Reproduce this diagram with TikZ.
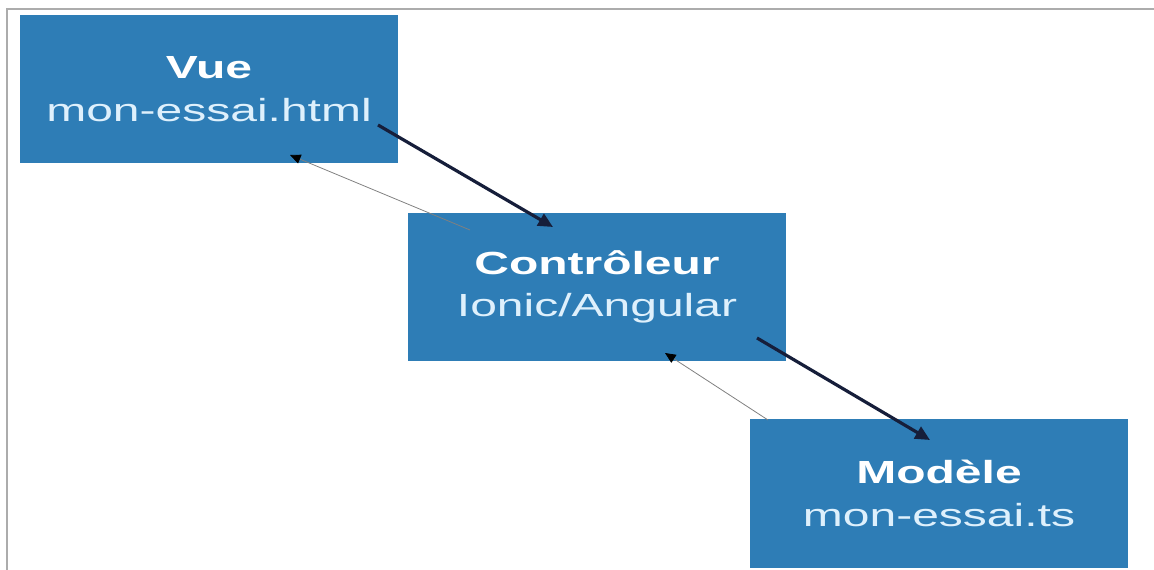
\documentclass[tikz,border=0pt]{standalone}
\usepackage{fontspec}
\setmainfont[FakeStretch=1.5]{Liberation Sans}
\usetikzlibrary{calc}
\usetikzlibrary{arrows.meta}
\definecolor{boxblue}{RGB}{46,125,182}
\definecolor{paletext}{RGB}{222,240,252}
\definecolor{navyline}{RGB}{22,30,58}
\definecolor{framegray}{RGB}{172,172,172}
\tikzset{every picture/.style={line width=0.75pt}}
\tikzset{
  layer/.style={fill=boxblue, minimum width=283.5pt, minimum height=111pt, inner sep=0pt,
    align=center, text=paletext, font=\fontsize{24}{32}\selectfont},
  callarrow/.style={navyline, line width=2.4pt, -{Triangle[length=11pt,width=10pt]}},
  backarrow/.style={gray, line width=0.6pt, -{Triangle[length=8pt,width=7pt,color=black]}},
}

\begin{document}
\begin{tikzpicture}[x=0.75pt,y=0.75pt,yscale=-1,xscale=1]
\useasboundingbox (0,0) rectangle (1154,570);

%Frame
\draw [framegray, line width=1.5pt] (1154,9) -- (7,9) -- (7,570) ;

% Boxes
\node [layer] (vue) at (209,89) {\textcolor{white}{\bfseries Vue}\\mon-essai.html};
\node [layer] (ctrl) at (597,287) {\textcolor{white}{\bfseries Contrôleur}\\Ionic/Angular};
\node [layer] (modele) at (939,493.5) {\textcolor{white}{\bfseries Modèle}\\mon-essai.ts};

% Arrows
\draw [callarrow] ($(vue)+(169,36)$) -- ($(ctrl)+(-44,-60)$) ;
\draw [backarrow] ($(ctrl)+(-127,-57)$) -- ($(vue)+(81,66)$) ;
\draw [callarrow] ($(ctrl)+(160,51)$) -- ($(modele)+(-9,-53.5)$) ;
\draw [backarrow] ($(modele)+(-171,-73.5)$) -- ($(ctrl)+(68,66)$) ;
\end{tikzpicture}
\end{document}
